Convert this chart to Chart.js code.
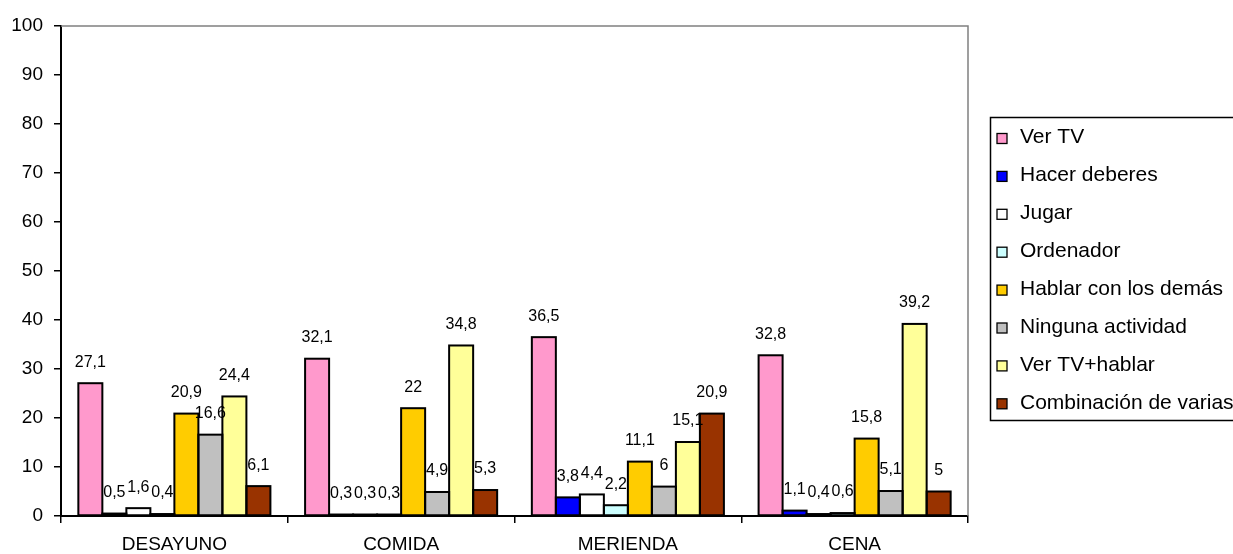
<!DOCTYPE html>
<html>
<head>
<meta charset="utf-8">
<script src="https://cdn.jsdelivr.net/npm/chart.js@4/dist/chart.umd.min.js"></script>
<style>
  html, body { margin: 0; padding: 0; background: #ffffff; }
  #wrap { width: 1233px; height: 554px; position: relative; }
</style>
</head>
<body>
<div id="wrap"><canvas id="c" width="1233" height="554"></canvas></div>
<script>
// Meals (categories) and the share (%) of each activity during the meal
const categories = ['DESAYUNO', 'COMIDA', 'MERIENDA', 'CENA'];

const verTV        = [27.1, 32.1, 36.5, 32.8];
const hacerDeberes = [0.5, 0.3, 3.8, 1.1];
const jugar        = [1.6, 0.3, 4.4, 0.4];
const ordenador    = [0.4, 0.3, 2.2, 0.6];
const hablar       = [20.9, 22, 11.1, 15.8];
const ninguna      = [16.6, 4.9, 6, 5.1];
const verTVHablar  = [24.4, 34.8, 15.1, 39.2];
const combinacion  = [6.1, 5.3, 20.9, 5];

const seriesNames = [
  'Ver TV', 'Hacer deberes', 'Jugar', 'Ordenador',
  'Hablar con los demás', 'Ninguna actividad', 'Ver TV+hablar', 'Combinación de varias'
];
const seriesValues = [verTV, hacerDeberes, jugar, ordenador, hablar, ninguna, verTVHablar, combinacion];
const seriesColors = ['#FF99CC', '#0000FF', '#FFFFFF', '#CCFFFF', '#FFCC00', '#C0C0C0', '#FFFF99', '#993300'];

const yMin = 0, yMax = 100, yStep = 10;

const FONT = '"Liberation Sans", Arial, sans-serif';

// Black outline centred on each bar edge (so very short bars still show as a line),
// then the value label above each bar with a decimal comma
const barOutlinesAndLabels = {
  id: 'barOutlinesAndLabels',
  afterDatasetsDraw(chart) {
    const ctx = chart.ctx;
    ctx.save();
    ctx.strokeStyle = '#000';
    ctx.lineWidth = 2;
    chart.data.datasets.forEach((ds, i) => {
      const meta = chart.getDatasetMeta(i);
      meta.data.forEach((bar) => {
        const p = bar.getProps(['x', 'y', 'base', 'width'], true);
        ctx.strokeRect(p.x - p.width / 2, p.y, p.width, p.base - p.y);
      });
    });

    ctx.font = '16px ' + FONT;
    ctx.fillStyle = '#000';
    ctx.textAlign = 'center';
    ctx.textBaseline = 'middle';
    chart.data.datasets.forEach((ds, i) => {
      const meta = chart.getDatasetMeta(i);
      meta.data.forEach((bar, j) => {
        const txt = String(ds.data[j]).replace('.', ',');
        ctx.fillText(txt, bar.x, bar.y - 21);
      });
    });
    ctx.restore();
  }
};

// Gray frame on the top and right of the plot area, and the boxed legend
const frameAndLegend = {
  id: 'frameAndLegend',
  afterDraw(chart) {
    const ctx = chart.ctx;
    const a = chart.chartArea;
    ctx.save();
    ctx.strokeStyle = '#808080';
    ctx.lineWidth = 1.5;
    ctx.beginPath();
    ctx.moveTo(a.left, a.top);
    ctx.lineTo(a.right, a.top);
    ctx.lineTo(a.right, a.bottom);
    ctx.stroke();

    // legend box
    ctx.strokeStyle = '#000';
    ctx.lineWidth = 1.5;
    ctx.beginPath();
    ctx.rect(990.5, 117.5, 300, 303);
    ctx.stroke();

    ctx.font = '21px ' + FONT;
    ctx.textAlign = 'left';
    ctx.textBaseline = 'middle';
    chart.data.datasets.forEach((ds, i) => {
      const y = 137.5 + i * 37.9;
      ctx.fillStyle = ds.backgroundColor;
      ctx.fillRect(997, y - 4, 10, 10);
      ctx.strokeStyle = '#000';
      ctx.lineWidth = 1.3;
      ctx.strokeRect(997, y - 4, 10, 10);
      ctx.fillStyle = '#000';
      ctx.fillText(ds.label, 1020, y);
    });
    ctx.restore();
  }
};

const datasets = seriesNames.map((name, i) => ({
  label: name,
  data: seriesValues[i],
  backgroundColor: seriesColors[i],
  borderWidth: 0,
  categoryPercentage: 0.847,
  barPercentage: 1.0
}));

new Chart(document.getElementById('c'), {
  type: 'bar',
  data: { labels: categories, datasets },
  plugins: [barOutlinesAndLabels, frameAndLegend],
  options: {
    responsive: false,
    animation: false,
    devicePixelRatio: 1,
    layout: { padding: { top: 26, right: 265, left: 0, bottom: 0 } },
    plugins: {
      legend: { display: false },
      tooltip: { enabled: false },
      title: { display: false }
    },
    scales: {
      x: {
        ticks: { color: '#000', font: { family: FONT, size: 19 }, padding: 10, maxRotation: 0 },
        grid: { display: true, offset: true, drawOnChartArea: false, drawTicks: true, tickLength: 7, color: '#000', lineWidth: 1.5 },
        border: { display: true, color: '#000', width: 2 },
        afterFit(s) { s.height = 38; }
      },
      y: {
        min: yMin, max: yMax,
        ticks: { stepSize: yStep, color: '#000', font: { family: FONT, size: 19 }, padding: 11 },
        grid: { display: true, drawOnChartArea: false, drawTicks: true, tickLength: 7, color: '#000', lineWidth: 1.5 },
        border: { display: true, color: '#000', width: 2 },
        afterFit(s) { s.width = 61; }
      }
    }
  }
});
</script>
</body>
</html>
